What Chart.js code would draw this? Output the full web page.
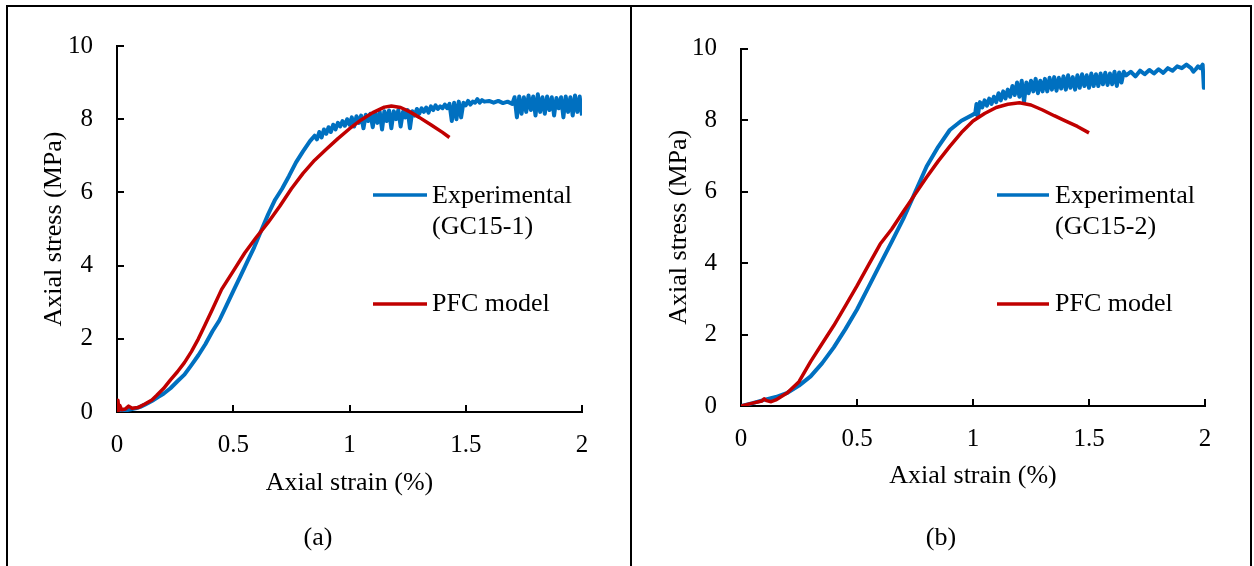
<!DOCTYPE html>
<html>
<head>
<meta charset="utf-8">
<script src="https://cdn.jsdelivr.net/npm/chart.js@4.4.0/dist/chart.umd.min.js"></script>
<style>
  body { margin: 0; background: #fff; width: 1254px; height: 566px; overflow: hidden; position: relative; }
  #frame { position: absolute; left: 6px; top: 5px; width: 1242px; height: 600px; border: 2px solid #000; }
  #divider { position: absolute; left: 630px; top: 5px; width: 2px; height: 561px; background: #000; }
  canvas { position: absolute; top: 0; }
  #chartA { left: 0; }
  #chartB { left: 632px; }
</style>
</head>
<body>
<div id="frame"></div>
<div id="divider"></div>
<canvas id="chartA" width="630" height="566"></canvas>
<canvas id="chartB" width="618" height="566"></canvas>
<script>
"use strict";

// axis ticks (both panels)
var xTicks = [0, 0.5, 1, 1.5, 2];
var yTicks = [0, 2, 4, 6, 8, 10];

// (a) experimental GC15-1
var strainExpA = [0, 0.02, 0.05, 0.08, 0.1, 0.12, 0.15, 0.18, 0.2, 0.23, 0.26, 0.29, 0.32, 0.35, 0.38, 0.41, 0.44, 0.47, 0.5, 0.53,
  0.56, 0.59, 0.62, 0.65, 0.68, 0.71, 0.74, 0.77, 0.8, 0.83, 0.85,
  0.86, 0.87, 0.88, 0.89, 0.9, 0.91, 0.92, 0.93, 0.94, 0.95, 0.96, 0.97, 0.98, 0.99, 1.0, 1.01, 1.02, 1.03, 1.04, 1.05,
  1.06, 1.07, 1.08, 1.09, 1.1, 1.11, 1.12, 1.13, 1.14, 1.15, 1.16, 1.17, 1.18, 1.19, 1.2, 1.21, 1.22, 1.23, 1.24, 1.25,
  1.26, 1.27, 1.28, 1.29, 1.3, 1.31, 1.32, 1.33, 1.34, 1.35, 1.36, 1.37, 1.38, 1.39, 1.4, 1.41, 1.42, 1.43, 1.44, 1.45,
  1.46, 1.47, 1.48, 1.49, 1.5, 1.51, 1.52, 1.53, 1.54, 1.55, 1.56, 1.57, 1.58, 1.6, 1.62, 1.64, 1.66, 1.68, 1.7, 1.71,
  1.72, 1.73, 1.74, 1.75, 1.76, 1.77, 1.78, 1.79, 1.8, 1.81, 1.82, 1.83, 1.84, 1.85, 1.86, 1.87, 1.88, 1.89, 1.9, 1.91,
  1.92, 1.93, 1.94, 1.95, 1.96, 1.97, 1.98, 1.99, 2.0];
var stressExpA = [0, 0.02, 0.06, 0.1, 0.14, 0.2, 0.3, 0.42, 0.5, 0.65, 0.84, 1.02, 1.28, 1.55, 1.85, 2.2, 2.5, 2.9, 3.3, 3.7,
  4.1, 4.5, 4.95, 5.4, 5.8, 6.1, 6.45, 6.82, 7.12, 7.4, 7.55,
  7.45, 7.65, 7.5, 7.72, 7.6, 7.78, 7.65, 7.85, 7.72, 7.9, 7.8, 7.95, 7.82, 8.0, 7.85, 8.05, 7.8, 8.08, 7.9, 8.1,
  7.75, 8.12, 7.95, 8.15, 7.78, 8.18, 7.9, 8.2, 7.72, 8.22, 7.95, 8.24, 7.75, 8.22, 8.0, 8.25, 7.8, 8.2, 8.05, 8.25,
  7.75, 8.22, 8.1, 8.28, 8.15, 8.3, 8.2, 8.32, 8.18, 8.35, 8.25, 8.38, 8.28, 8.35, 8.3, 8.4, 8.3, 8.42, 7.95, 8.45,
  8.0, 8.48, 8.05, 8.45, 8.38, 8.5, 8.4, 8.48, 8.45, 8.55, 8.45, 8.52, 8.48, 8.5, 8.45, 8.5, 8.44, 8.48, 8.42, 8.6,
  8.05, 8.62, 8.15, 8.6, 8.2, 8.65, 8.25, 8.62, 8.1, 8.68, 8.2, 8.6, 8.15, 8.62, 8.25, 8.6, 8.1, 8.58, 8.3, 8.6,
  8.05, 8.62, 8.2, 8.6, 8.1, 8.65, 8.2, 8.62, 8.1];

// (a) PFC model
var strainPfcA = [0, 0.004, 0.008, 0.012, 0.02, 0.035, 0.05, 0.065, 0.09, 0.12, 0.15, 0.17, 0.2, 0.23, 0.26, 0.29, 0.32, 0.35,
  0.38, 0.41, 0.45, 0.5, 0.55, 0.6, 0.65, 0.7, 0.75, 0.8, 0.85, 0.9, 0.95, 1.0, 1.05, 1.1, 1.15, 1.18, 1.22, 1.26,
  1.3, 1.35, 1.4, 1.43];
var stressPfcA = [0, 0.32, 0.05, 0.18, 0.06, 0.08, 0.16, 0.1, 0.12, 0.22, 0.33, 0.45, 0.64, 0.88, 1.1, 1.35, 1.65, 2.0,
  2.4, 2.8, 3.35, 3.85, 4.35, 4.78, 5.18, 5.62, 6.1, 6.52, 6.88, 7.18, 7.47, 7.74, 7.98, 8.18, 8.33, 8.36, 8.32, 8.2,
  8.05, 7.85, 7.64, 7.5];

// (b) experimental GC15-2
var strainExpB = [0, 0.05, 0.1, 0.15, 0.2, 0.25, 0.3, 0.35, 0.4, 0.45, 0.5, 0.55, 0.6, 0.65, 0.7, 0.75, 0.8, 0.85, 0.9, 0.95,
  1.0, 1.01, 1.015, 1.02, 1.03, 1.04, 1.05, 1.06, 1.07, 1.08, 1.09, 1.1, 1.11, 1.12, 1.13, 1.14, 1.15, 1.16, 1.17, 1.18,
  1.19, 1.2, 1.21, 1.22, 1.23, 1.24, 1.25, 1.26, 1.27, 1.28, 1.29, 1.3, 1.31, 1.32, 1.33, 1.34, 1.35, 1.36, 1.37, 1.38,
  1.39, 1.4, 1.41, 1.42, 1.43, 1.44, 1.45, 1.46, 1.47, 1.48, 1.49, 1.5, 1.51, 1.52, 1.53, 1.54, 1.55, 1.56, 1.57, 1.58,
  1.59, 1.6, 1.61, 1.62, 1.63, 1.64, 1.65, 1.66, 1.68, 1.7, 1.72, 1.74, 1.76, 1.78, 1.8, 1.82, 1.84, 1.86, 1.88, 1.9,
  1.92, 1.93, 1.94, 1.95, 1.96, 1.97, 1.98, 1.99, 1.995, 2.0];
var stressExpB = [0, 0.08, 0.17, 0.25, 0.37, 0.57, 0.83, 1.2, 1.64, 2.15, 2.7, 3.33, 3.97, 4.6, 5.24, 5.97, 6.7, 7.25, 7.72, 7.98,
  8.15, 8.2, 8.45, 8.1, 8.5, 8.35, 8.55, 8.4, 8.6, 8.45, 8.65, 8.5, 8.75, 8.55, 8.8, 8.6, 8.85, 8.65, 8.95, 8.7,
  9.05, 8.65, 9.1, 8.5, 9.05, 8.75, 9.1, 8.8, 9.15, 8.75, 9.1, 8.8, 9.15, 8.8, 9.18, 8.85, 9.2, 8.82, 9.18, 8.88,
  9.22, 8.85, 9.25, 8.9, 9.2, 8.85, 9.25, 8.9, 9.28, 8.95, 9.25, 8.9, 9.3, 8.95, 9.28, 8.95, 9.3, 9.0, 9.32, 8.98,
  9.3, 9.0, 9.35, 8.95, 9.33, 9.05, 9.35, 9.25, 9.35, 9.22, 9.38, 9.28, 9.4, 9.3, 9.42, 9.32, 9.45, 9.38, 9.5, 9.45,
  9.55, 9.5, 9.45, 9.35, 9.42, 9.5, 9.45, 9.55, 8.9, 9.3];

// (b) PFC model
var strainPfcB = [0, 0.05, 0.09, 0.1, 0.11, 0.13, 0.15, 0.2, 0.25, 0.3, 0.35, 0.4, 0.45, 0.5, 0.55, 0.6, 0.65, 0.7, 0.75, 0.8,
  0.85, 0.9, 0.95, 1.0, 1.05, 1.1, 1.15, 1.2, 1.25, 1.3, 1.35, 1.4, 1.45, 1.5];
var stressPfcB = [0, 0.08, 0.14, 0.2, 0.15, 0.12, 0.17, 0.37, 0.68, 1.24, 1.75, 2.25, 2.8, 3.36, 3.95, 4.53, 4.95, 5.44, 5.92, 6.4,
  6.85, 7.26, 7.65, 7.97, 8.18, 8.35, 8.44, 8.48, 8.42, 8.28, 8.12, 7.97, 7.82, 7.64];

var BLUE = '#0070C0';
var RED = '#C00000';
var FONT = '"Liberation Serif", "Times New Roman", serif';

function pts(xs, ys) {
  return xs.map(function (x, i) { return { x: x, y: ys[i] }; });
}

// tick marks pointing into the plot, like the original
var innerTicks = {
  id: 'innerTicks',
  beforeDatasetsDraw: function (chart) {
    var ctx = chart.ctx, area = chart.chartArea, x = chart.scales.x, y = chart.scales.y;
    ctx.save();
    ctx.strokeStyle = '#000';
    ctx.lineWidth = 2;
    ctx.beginPath();
    x.ticks.forEach(function (t) {
      var px = Math.round(x.getPixelForValue(t.value));
      ctx.moveTo(px, area.bottom);
      ctx.lineTo(px, area.bottom - 7);
    });
    y.ticks.forEach(function (t) {
      var py = Math.round(y.getPixelForValue(t.value));
      ctx.moveTo(area.left, py);
      ctx.lineTo(area.left + 7, py);
    });
    ctx.stroke();
    ctx.restore();
  }
};

// legend inside plot + panel caption
var notes = {
  id: 'notes',
  afterDraw: function (chart, args, opts) {
    var ctx = chart.ctx;
    ctx.save();
    ctx.font = '26px ' + FONT;
    ctx.fillStyle = '#000';
    ctx.textAlign = 'left';
    ctx.textBaseline = 'alphabetic';
    chart.data.datasets.forEach(function (ds, i) {
      var it = opts.items[i];
      ctx.strokeStyle = ds.borderColor;
      ctx.lineWidth = 3.5;
      ctx.beginPath();
      ctx.moveTo(opts.x0, it.ly);
      ctx.lineTo(opts.x1, it.ly);
      ctx.stroke();
      ds.legendLines.forEach(function (s, k) {
        ctx.fillText(s, opts.tx, it.base + k * 31);
      });
    });
    ctx.textAlign = 'center';
    ctx.textBaseline = 'middle';
    ctx.fillText(opts.caption, opts.cx, opts.cy);
    ctx.restore();
  }
};

function makeChart(id, expX, expY, pfcX, pfcY, expLines, cfg) {
  var ctx = document.getElementById(id).getContext('2d');
  return new Chart(ctx, {
    type: 'scatter',
    data: {
      datasets: [{
        label: expLines.join(' '),
        legendLines: expLines,
        data: pts(expX, expY),
        showLine: true,
        borderColor: BLUE,
        borderWidth: 4,
        borderJoinStyle: 'round',
        pointRadius: 0,
        order: 1
      }, {
        label: 'PFC model',
        legendLines: ['PFC model'],
        data: pts(pfcX, pfcY),
        showLine: true,
        borderColor: RED,
        borderWidth: 3.5,
        borderJoinStyle: 'round',
        pointRadius: 0,
        order: 0
      }]
    },
    options: {
      responsive: false,
      animation: false,
      layout: { padding: cfg.padding },
      plugins: {
        legend: { display: false },
        tooltip: { enabled: false },
        notes: cfg.notes
      },
      scales: {
        x: {
          type: 'linear',
          min: 0,
          max: 2,
          afterBuildTicks: function (s) { s.ticks = xTicks.map(function (v) { return { value: v }; }); },
          afterFit: function (s) { s.height = cfg.xHeight; },
          grid: { display: false, drawTicks: false },
          border: { display: true, color: '#000', width: 2 },
          ticks: {
            padding: cfg.xPad,
            color: '#000',
            maxRotation: 0,
            font: { family: FONT, size: 25 },
            callback: function (v) { return String(v); }
          },
          title: {
            display: true,
            text: 'Axial strain (%)',
            color: '#000',
            padding: 0,
            font: { family: FONT, size: 26 }
          }
        },
        y: {
          type: 'linear',
          min: 0,
          max: 10,
          afterBuildTicks: function (s) { s.ticks = yTicks.map(function (v) { return { value: v }; }); },
          afterFit: function (s) { s.width = cfg.yWidth; },
          grid: { display: false, drawTicks: false },
          border: { display: true, color: '#000', width: 2 },
          ticks: {
            padding: 24,
            color: '#000',
            font: { family: FONT, size: 25 },
            callback: function (v) { return String(v); }
          },
          title: {
            display: true,
            text: 'Axial stress (MPa)',
            color: '#000',
            padding: 0,
            font: { family: FONT, size: 26 }
          }
        }
      }
    },
    plugins: [innerTicks, notes]
  });
}

makeChart('chartA', strainExpA, stressExpA, strainPfcA, stressPfcA, ['Experimental', '(GC15-1)'], {
  padding: { left: 39, right: 48, top: 46, bottom: 67.4 },
  yWidth: 78,
  xHeight: 86.6,
  xPad: 18,
  notes: {
    x0: 373, x1: 427, tx: 432,
    items: [{ ly: 195, base: 203 }, { ly: 304, base: 311 }],
    caption: '(a)', cx: 318, cy: 538
  }
});

makeChart('chartB', strainExpB, stressExpB, strainPfcB, stressPfcB, ['Experimental', '(GC15-2)'], {
  padding: { left: 31.4, right: 45, top: 48.5, bottom: 74.4 },
  yWidth: 77.6,
  xHeight: 85.6,
  xPad: 18,
  notes: {
    x0: 365, x1: 417, tx: 423,
    items: [{ ly: 195, base: 203 }, { ly: 304, base: 311 }],
    caption: '(b)', cx: 309, cy: 538
  }
});
</script>
</body>
</html>
